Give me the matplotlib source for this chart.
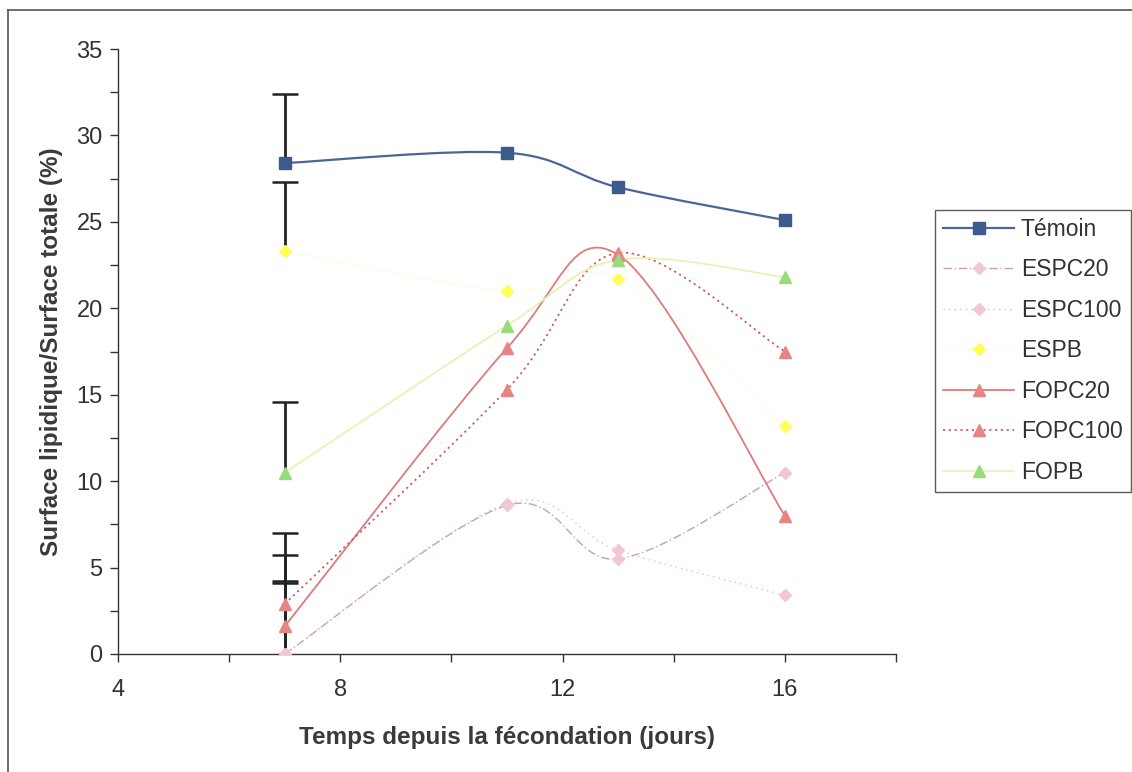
import numpy as np
import matplotlib
matplotlib.use("Agg")
import matplotlib.pyplot as plt
from matplotlib.path import Path
from matplotlib.patches import PathPatch
from matplotlib.lines import Line2D

plt.rcParams['font.family'] = ['Liberation Sans', 'DejaVu Sans']

# Days after fertilisation
days = [7, 11, 13, 16]

# Lipid surface / total surface (%)
temoin = [28.4, 29.0, 27.0, 25.1]
espc20 = [0.0, 8.6, 5.5, 10.5]
espc100 = [0.0, 8.7, 6.0, 3.4]
espb = [23.3, 21.0, 21.7, 13.2]
fopc20 = [1.6, 17.7, 23.1, 8.0]
fopc100 = [2.9, 15.3, 23.2, 17.5]
fopb = [10.5, 19.0, 22.8, 21.8]

# Upper error bars on day 7
err_day7 = {"Témoin": 4.0, "ESPC20": 4.2, "ESPC100": 4.1, "ESPB": 4.0,
            "FOPC20": 4.1, "FOPC100": 4.1, "FOPB": 4.1}

series = [
    ("Témoin", temoin, dict(lc="#4a6699", ls="-", lw=1.6, m="s", mc="#3d5a8c", ms=9)),
    ("ESPC20", espc20, dict(lc="#c8a0b0", ls=(0, (6, 2, 1, 2)), lw=1.0, m="D", mc="#f2c6d6", ms=6)),
    ("ESPC100", espc100, dict(lc="#e4bccb", ls=(0, (1, 3)), lw=1.0, m="D", mc="#f2c6d6", ms=6)),
    ("ESPB", espb, dict(lc="#fdfde8", ls="-", lw=1.0, m="D", mc="#ffff55", ms=6)),
    ("FOPC20", fopc20, dict(lc="#e07a7a", ls="-", lw=1.3, m="^", mc="#e88484", ms=9)),
    ("FOPC100", fopc100, dict(lc="#c76060", ls=(0, (1.2, 2)), lw=1.3, m="^", mc="#e88484", ms=9)),
    ("FOPB", fopb, dict(lc="#e6f2b0", ls="-", lw=1.2, m="^", mc="#96dc78", ms=9)),
]


def smooth_path(x, y):
    """Bezier path through the points with Catmull-Rom style tangents."""
    pts = np.column_stack([x, y]).astype(float)
    n = len(pts)
    verts = [pts[0]]
    codes = [Path.MOVETO]
    for i in range(n - 1):
        p0 = pts[i - 1] if i > 0 else pts[i]
        p1 = pts[i]
        p2 = pts[i + 1]
        p3 = pts[i + 2] if i + 2 < n else pts[i + 1]
        c1 = p1 + (p2 - p0) / 6.0
        c2 = p2 - (p3 - p1) / 6.0
        verts += [c1, c2, p2]
        codes += [Path.CURVE4] * 3
    return Path(verts, codes)


fig = plt.figure(figsize=(11.32, 7.72), dpi=100)
ax = fig.add_axes([118 / 1132, 1 - 654 / 772, (896 - 118) / 1132, (654 - 49) / 772])

ax.set_xlim(4, 18)
ax.set_ylim(0, 35)

# upper-only error bars, drawn beneath the markers
for name, vals, st in series:
    y0 = vals[0]
    y1 = y0 + err_day7[name]
    ax.vlines(days[0], y0, y1, colors="#222222", linewidth=2.0, zorder=2)
    ax.plot([days[0]], [y1], linestyle="none", marker="_", markersize=19,
            markeredgewidth=1.8, color="#222222", zorder=2)

handles = []
for name, vals, st in series:
    patch = PathPatch(smooth_path(days, vals), facecolor="none", edgecolor=st["lc"],
                      linestyle=st["ls"], linewidth=st["lw"], zorder=3)
    ax.add_patch(patch)
    ax.plot(days, vals, linestyle="none", marker=st["m"], markersize=st["ms"],
            markerfacecolor=st["mc"], markeredgecolor=st["mc"], zorder=4)
    handles.append(Line2D([], [], color=st["lc"], linestyle=st["ls"], linewidth=st["lw"],
                          marker=st["m"], markersize=st["ms"], markerfacecolor=st["mc"],
                          markeredgecolor=st["mc"], label=name))

for s in ("top", "right"):
    ax.spines[s].set_visible(False)
for s in ("left", "bottom"):
    ax.spines[s].set_color("#333333")
    ax.spines[s].set_linewidth(1.0)

ax.set_xticks([4, 6, 8, 10, 12, 14, 16, 18])
ax.set_xticklabels(["4", "", "8", "", "12", "", "16", ""])
ax.set_yticks([0, 5, 10, 15, 20, 25, 30, 35])
ax.set_yticks(np.arange(2.5, 35, 5), minor=True)
ax.tick_params(axis="both", which="both", direction="out", length=6, width=1.0,
               color="#333333", labelcolor="#333333", labelsize=17)
ax.tick_params(axis="x", pad=12)
ax.tick_params(axis="y", pad=5)

ax.set_xlabel("Temps depuis la fécondation (jours)", fontsize=17.5, fontweight="bold",
              color="#3a3a3a", labelpad=18)
ax.set_ylabel("Surface lipidique/Surface totale (%)", fontsize=17.5, fontweight="bold",
              color="#3a3a3a", labelpad=10)

leg = fig.legend(handles=handles, loc="upper left",
                 bbox_to_anchor=(935 / 1132, 1 - 210 / 772),
                 frameon=True, fancybox=False, fontsize=16.5, handlelength=3.1,
                 handletextpad=0.3, labelspacing=0.76, borderpad=0.35,
                 borderaxespad=0.0)
leg.get_frame().set_edgecolor("#333333")
leg.get_frame().set_linewidth(1.0)
for t in leg.get_texts():
    t.set_color("#333333")

# outer chart frame
fig.add_artist(Line2D([8 / 1132, 1.0], [1 - 10 / 772, 1 - 10 / 772],
                      transform=fig.transFigure, color="#555555", linewidth=1.2))
fig.add_artist(Line2D([8 / 1132, 8 / 1132], [0.0, 1 - 10 / 772],
                      transform=fig.transFigure, color="#555555", linewidth=1.2))

fig.savefig("out.png", dpi=100, facecolor="white")
